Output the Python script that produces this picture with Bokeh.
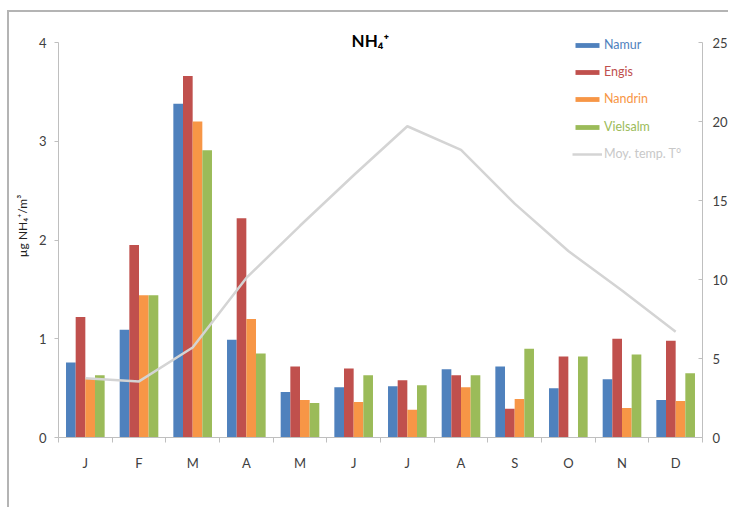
import numpy as np
from bokeh.plotting import figure
from bokeh.models import (Range1d, LinearAxis, FixedTicker, Legend, LegendItem,
                          Label, CustomJSTickFormatter)
from bokeh.embed import file_html
from bokeh.resources import INLINE

months = ["J", "F", "M", "A", "M", "J", "J", "A", "S", "O", "N", "D"]
namur = [0.76, 1.09, 3.38, 0.99, 0.46, 0.51, 0.52, 0.69, 0.72, 0.50, 0.59, 0.38]
engis = [1.22, 1.95, 3.66, 2.22, 0.72, 0.70, 0.58, 0.63, 0.29, 0.82, 1.00, 0.98]
nandrin = [0.60, 1.44, 3.20, 1.20, 0.38, 0.36, 0.28, 0.51, 0.39, float("nan"), 0.30, 0.37]
vielsalm = [0.63, 1.44, 2.91, 0.85, 0.35, 0.63, 0.53, 0.63, 0.90, 0.82, 0.84, 0.65]
temp = [3.75, 3.55, 5.7, 10.1, 13.4, 16.6, 19.7, 18.2, 14.8, 11.8, 9.3, 6.7]
series_names = ["Namur", "Engis", "Nandrin", "Vielsalm"]
temp_name = "Moy. temp. T°"
title_text = "NH₄⁺"
y_label = "µg NH₄⁺/m³"
y2_label = "T"

colors = ["#4F81BD", "#C0504D", "#F79646", "#9BBB59"]
temp_color = "#D4D4D4"
FONT = "Lato"

# frame spans a bit above the top tick so that title and legend are not clipped
Y_TOP = 423 / 98.75
Y2_TOP = 25 / 4 * Y_TOP

p = figure(width=721, height=497, x_range=Range1d(0, 12), y_range=Range1d(0, Y_TOP),
           output_backend="svg", toolbar_location=None,
           min_border_left=49, min_border_right=28, min_border_top=2,
           min_border_bottom=72)
p.styles = {"margin-left": "7px", "margin-top": "10px",
            "border-left": "2px solid #b4b4b4", "border-top": "2px solid #b4b4b4"}
p.outline_line_color = None
p.xgrid.visible = False
p.ygrid.visible = False
p.extra_y_ranges = {"temp": Range1d(0, Y2_TOP)}

# x axis
xa = p.xaxis[0]
xa.ticker = FixedTicker(ticks=[i + 0.5 for i in range(12)], minor_ticks=list(range(13)))
xa.formatter = CustomJSTickFormatter(args=dict(labels=months),
                                     code="return labels[Math.floor(tick)];")
xa.major_tick_out = 0
xa.major_tick_in = 0
xa.minor_tick_out = 5
xa.minor_tick_in = 0
xa.axis_line_color = "#bfbfbf"
xa.minor_tick_line_color = "#bfbfbf"
xa.major_label_standoff = 12
xa.major_label_text_font = FONT
xa.major_label_text_font_size = "13px"
xa.major_label_text_color = "#404040"

# left axis
ya = p.yaxis[0]
ya.ticker = FixedTicker(ticks=[0, 1, 2, 3, 4])
ya.bounds = (0, 4)
ya.major_tick_out = 4
ya.major_tick_in = 0
ya.minor_tick_out = 0
ya.minor_tick_in = 0
ya.axis_line_color = "#bfbfbf"
ya.major_tick_line_color = "#bfbfbf"
ya.major_label_standoff = 8
ya.major_label_text_font = FONT
ya.major_label_text_font_size = "13px"
ya.major_label_text_color = "#404040"
ya.axis_label = y_label
ya.axis_label_text_font = FONT
ya.axis_label_text_font_size = "12px"
ya.axis_label_text_font_style = "normal"
ya.axis_label_text_color = "#202020"
ya.axis_label_standoff = 6

# right axis
ra = LinearAxis(y_range_name="temp", ticker=FixedTicker(ticks=[0, 5, 10, 15, 20, 25]),
                bounds=(0, 25))
ra.major_tick_out = 0
ra.major_tick_in = 4
ra.minor_tick_out = 0
ra.minor_tick_in = 0
ra.axis_line_color = "#bfbfbf"
ra.major_tick_line_color = "#bfbfbf"
ra.major_label_standoff = 10
ra.major_label_text_font = FONT
ra.major_label_text_font_size = "13px"
ra.major_label_text_color = "#404040"
p.add_layout(ra, "right")

# bars
bw = 0.18
centers = np.arange(12) + 0.5
renderers = []
for k, vals in enumerate([namur, engis, nandrin, vielsalm]):
    r = p.vbar(x=centers + (k - 1.5) * bw, top=vals, bottom=0, width=bw,
               fill_color=colors[k], line_color=None)
    renderers.append(r)

lr = p.line(x=centers, y=temp, y_range_name="temp", line_color=temp_color, line_width=2.5)

# legends (one per entry so that text colours follow series colours)
legend_ys = [385, 358, 331, 303, 276]
text_colors = colors + ["#C8C8C8"]
all_r = renderers + [lr]
all_names = series_names + [temp_name]
for i in range(5):
    leg = Legend(items=[LegendItem(label=all_names[i], renderers=[all_r[i]])],
                 location=(514, legend_ys[i]))
    leg.padding = 0
    leg.margin = 0
    leg.spacing = 0
    leg.border_line_color = None
    leg.background_fill_alpha = 0
    leg.glyph_width = 30
    leg.glyph_height = 6
    leg.label_height = 6
    leg.label_standoff = 2
    leg.label_text_font = FONT
    leg.label_text_font_size = "12.5px"
    leg.label_text_color = text_colors[i]
    p.add_layout(leg)

# title and right-axis label
p.add_layout(Label(x=5.81, y=4, y_offset=2, text=title_text, text_align="center",
                   text_baseline="alphabetic", text_font=FONT, text_font_size="17px",
                   text_font_style="bold", text_color="#000000"))
p.add_layout(Label(x=12, y=12.3, y_range_name="temp", x_offset=16, text=y2_label,
                   text_align="center", text_baseline="middle", text_font=FONT,
                   text_font_size="12px", text_color="#202020"))

open("out.html", "w").write(file_html(p, INLINE))
